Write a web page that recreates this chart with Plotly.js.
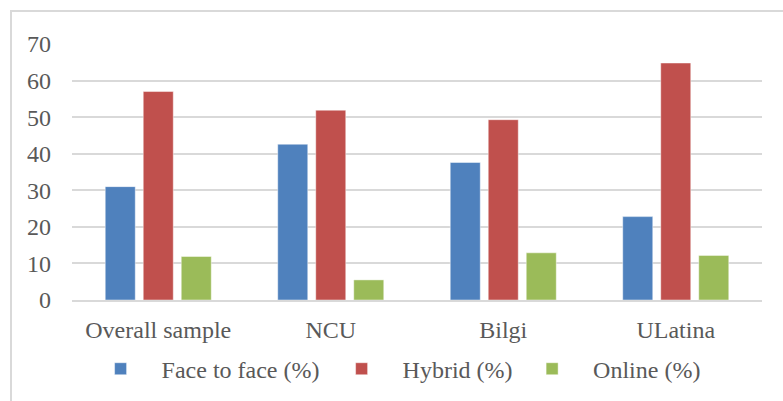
<!DOCTYPE html>
<html>
<head>
<meta charset="utf-8">
<script src="https://cdn.plot.ly/plotly-3.0.1.min.js"></script>
<style>
html,body{margin:0;padding:0;background:#fff;}
#wrap{position:relative;width:783px;height:401px;overflow:hidden;}
#frame{position:absolute;left:10px;top:10px;width:800px;height:420px;border:2px solid #d9d9d9;box-sizing:border-box;pointer-events:none;}
#chart{position:absolute;left:0;top:0;width:783px;height:401px;}
</style>
</head>
<body>
<div id="wrap">
<div id="chart"></div>
<div id="frame"></div>
</div>
<script>
const categories = ["Overall sample", "NCU", "Bilgi", "ULatina"];
const faceToFace = [31, 42.6, 37.6, 22.8];
const hybrid = [57, 51.9, 49.3, 64.8];
const online = [11.9, 5.5, 12.9, 12.2];
const seriesNames = ["Face to face (%)", "Hybrid (%)", "Online (%)"];
const yTicks = [0, 10, 20, 30, 40, 50, 60, 70];

const colors = ["#4f81bd", "#c0504d", "#9bbb59"];
const seriesVals = [faceToFace, hybrid, online];
const legendIds = ["legend", "legend2", "legend3"];
const legendX = [0.011, 0.3603, 0.6364];
const font = {family: "Liberation Serif", size: 24, color: "#595959"};

const traces = seriesVals.map((v, i) => ({
  type: "bar",
  x: categories,
  y: v,
  name: seriesNames[i],
  legend: legendIds[i],
  marker: {color: colors[i], line: {color: "rgba(255,255,255,0.45)", width: 1}},
  hoverinfo: "x+y+name"
}));

const layout = {
  width: 783,
  height: 401,
  margin: {l: 72, r: 21, t: 44, b: 101, pad: 0, autoexpand: false},
  paper_bgcolor: "#ffffff",
  plot_bgcolor: "#ffffff",
  font: font,
  barmode: "group",
  bargap: 0.339,
  bargroupgap: 0.21,
  showlegend: true,
  xaxis: {
    type: "category",
    showgrid: false,
    showline: true,
    linecolor: "#d9d9d9",
    linewidth: 2,
    ticks: "",
    tickfont: font,
    ticklabelstandoff: 7,
    automargin: false,
    fixedrange: true
  },
  yaxis: {
    range: [0, 70],
    tickvals: yTicks,
    ticktext: yTicks.map(String),
    showgrid: true,
    gridcolor: "#d9d9d9",
    gridwidth: 2,
    zeroline: false,
    showline: false,
    ticks: "",
    tickfont: font,
    ticklabelstandoff: 20,
    automargin: false,
    fixedrange: true
  }
};
legendIds.forEach((id, i) => {
  layout[id] = {
    orientation: "h",
    x: legendX[i], xanchor: "left",
    y: -0.27, yanchor: "middle",
    font: font,
    itemwidth: 72,
    bgcolor: "rgba(0,0,0,0)"
  };
});

Plotly.newPlot("chart", traces, layout, {displayModeBar: false, staticPlot: true});
</script>
</body>
</html>
